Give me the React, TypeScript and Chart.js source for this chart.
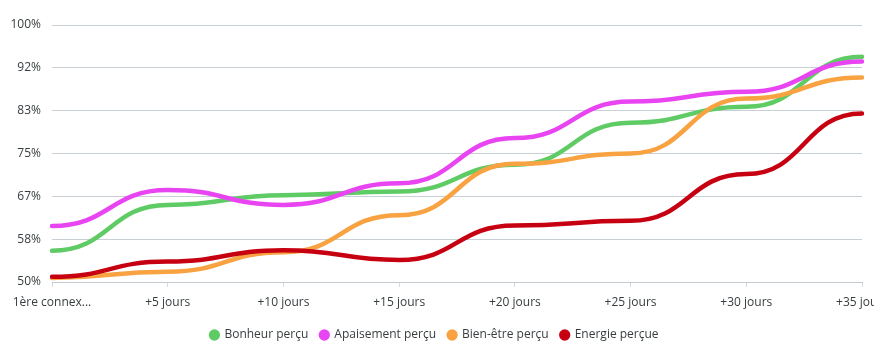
import React, { useEffect, useRef } from "react";
import { Chart, registerables } from "chart.js";

Chart.register(...registerables);

const categories = [
  "1ère connex...",
  "+5 jours",
  "+10 jours",
  "+15 jours",
  "+20 jours",
  "+25 jours",
  "+30 jours",
  "+35 jours",
];

const bonheur = [56.1, 65.0, 66.9, 67.6, 72.8, 81.0, 84.1, 93.8];
const apaisement = [60.9, 67.9, 65.0, 69.2, 78.0, 85.1, 87.0, 92.9];
const bienEtre = [50.8, 52.0, 55.8, 63.0, 73.0, 75.0, 85.7, 89.8];
const energie = [51.0, 54.0, 56.2, 54.3, 61.0, 61.9, 71.0, 82.8];

const seriesNames = ["Bonheur perçu", "Apaisement perçu", "Bien-être perçu", "Energie perçue"];
const seriesColors = ["#5fcb65", "#e944f2", "#f8a241", "#c70011"];

const yTickValues = [50, 58.333, 66.667, 75, 83.333, 91.667, 100];
const yTickLabels = ["50%", "58%", "67%", "75%", "83%", "92%", "100%"];

// Smooth curve with horizontal tangents at each point (bump-like spline)
const bumpPlugin = {
  id: "bumpCurve",
  beforeDatasetDraw(chart: any, args: any) {
    const meta = args.meta;
    const line = meta.dataset;
    const pts = meta.data;
    if (!line || !pts) return;
    line.updateControlPoints(chart.chartArea, "x");
    for (let i = 0; i < pts.length; i++) {
      const p = pts[i];
      const prev = pts[i - 1];
      const next = pts[i + 1];
      const dPrev = prev ? (p.x - prev.x) * 0.5 : 0;
      const dNext = next ? (next.x - p.x) * 0.5 : 0;
      p.cp1x = p.x - dPrev;
      p.cp1y = p.y;
      p.cp2x = p.x + dNext;
      p.cp2y = p.y;
    }
  },
};

export default function App() {
  const ref = useRef<HTMLCanvasElement | null>(null);

  useEffect(() => {
    document.body.style.margin = "0";
    document.body.style.background = "#ffffff";
    const canvas = ref.current;
    if (!canvas) return;
    const dataArrays = [bonheur, apaisement, bienEtre, energie];
    const chart = new Chart(canvas, {
      type: "line",
      data: {
        labels: categories,
        datasets: dataArrays.map((d, i) => ({
          label: seriesNames[i],
          data: d,
          borderColor: seriesColors[i],
          backgroundColor: seriesColors[i],
          borderWidth: 4.5,
          pointRadius: 0,
          pointHoverRadius: 0,
          tension: 0.4,
          fill: false,
          order: dataArrays.length - i,
          borderCapStyle: "round" as const,
          borderJoinStyle: "round" as const,
        })),
      },
      options: {
        animation: false,
        responsive: false,
        maintainAspectRatio: false,
        layout: { padding: { top: 25, right: 5, bottom: 4, left: 0 } },
        plugins: {
          tooltip: { enabled: false },
          legend: {
            position: "bottom",
            labels: {
              usePointStyle: true,
              pointStyle: "circle",
              boxWidth: 8,
              boxHeight: 8,
              padding: 12,
              color: "#373d3f",
              font: { family: "'Open Sans', sans-serif", size: 12 },
              sort: (a: any, b: any) => a.datasetIndex - b.datasetIndex,
              generateLabels: (c: any) =>
                (Chart.defaults.plugins.legend.labels.generateLabels as any)(c).map((l: any) => ({
                  ...l,
                  lineWidth: 0,
                  strokeStyle: "rgba(0,0,0,0)",
                })),
            },
          },
        },
        scales: {
          x: {
            type: "category",
            offset: false,
            grid: {
              drawOnChartArea: false,
              drawTicks: true,
              tickLength: 5,
              color: "#d3d9de",
            },
            border: { display: true, color: "#c3cbd1", width: 1 },
            ticks: {
              autoSkip: false,
              maxRotation: 0,
              minRotation: 0,
              padding: 8,
              color: "#373d3f",
              font: { family: "'Open Sans', sans-serif", size: 12 },
            },
            afterFit: (s: any) => {
              s.height = 35;
              s.paddingLeft = 0;
              s.paddingRight = 12;
            },
          },
          y: {
            min: 50,
            max: 100,
            grid: {
              drawTicks: false,
              color: "#c8d0d6",
              lineWidth: 1,
            },
            border: { display: false },
            ticks: {
              padding: 11,
              color: "#373d3f",
              font: { family: "'Open Sans', sans-serif", size: 12 },
              callback: (_v: any, idx: number) => yTickLabels[idx],
            },
            afterBuildTicks: (s: any) => {
              s.ticks = yTickValues.map((v) => ({ value: v }));
            },
            afterFit: (s: any) => {
              s.width = 52;
            },
          },
        },
      },
      plugins: [bumpPlugin],
    });
    return () => chart.destroy();
  }, []);

  return (
    <div style={{ position: "absolute", left: 0, top: 0, width: 882, height: 355, background: "#fff" }}>
      <canvas ref={ref} width={874} height={355} style={{ width: 874, height: 355, display: "block" }} />
    </div>
  );
}
